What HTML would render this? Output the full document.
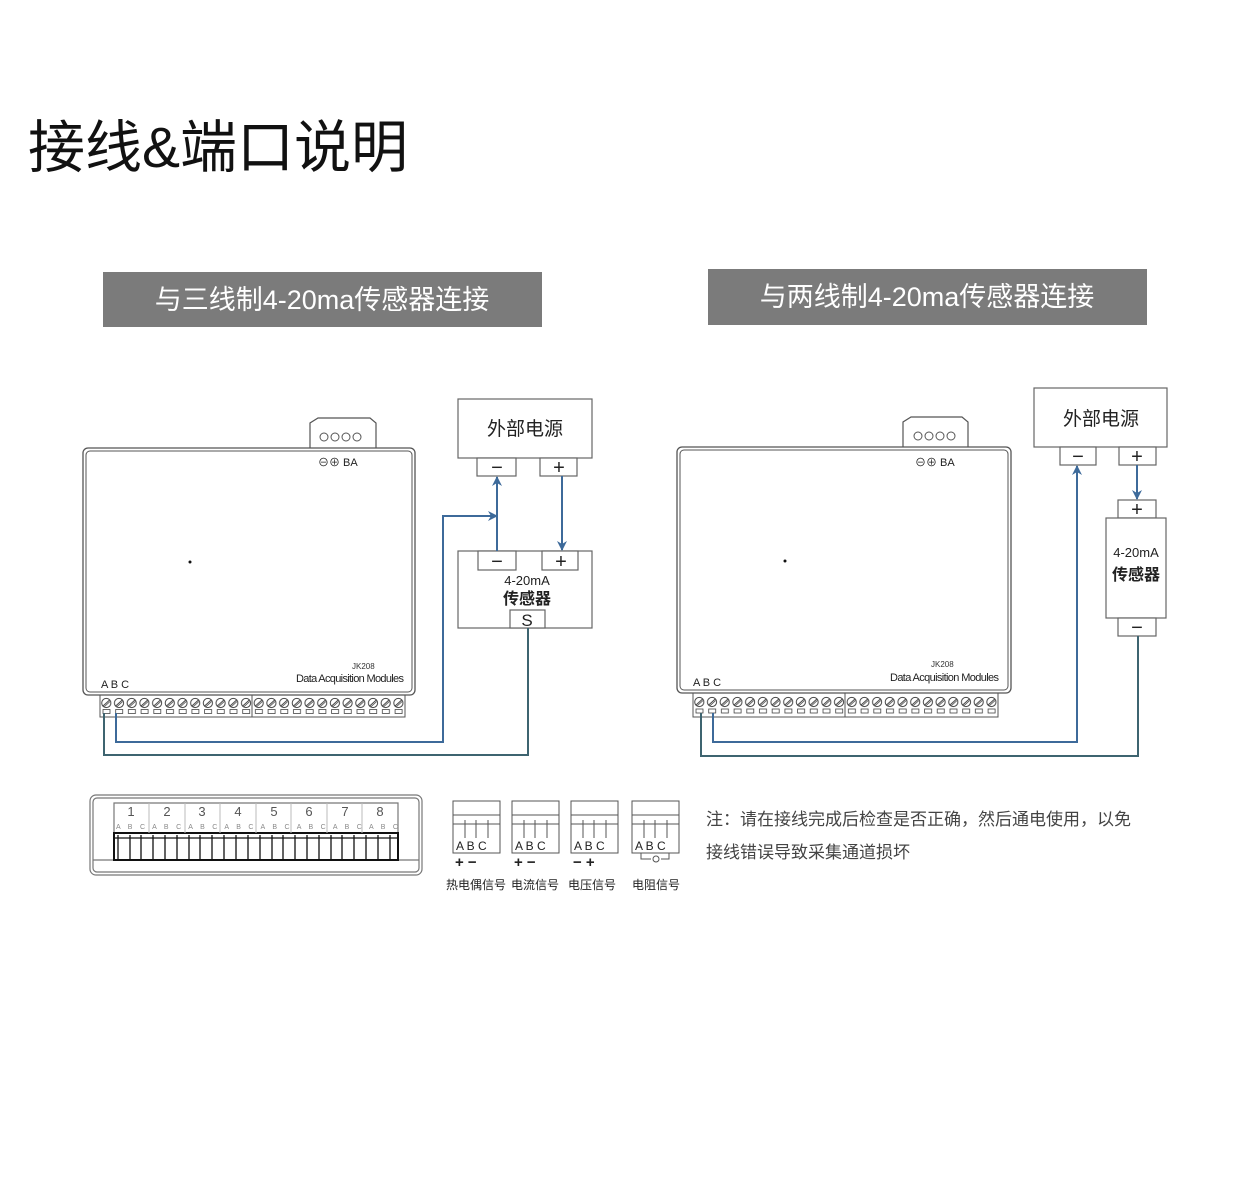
<!DOCTYPE html>
<html><head><meta charset="utf-8"><style>
body{margin:0;background:#fff;}
svg{display:block;}
text{font-family:"Liberation Sans","Noto Sans CJK SC",sans-serif;}
</style></head><body>
<svg width="1256" height="1200" viewBox="0 0 1256 1200" xmlns="http://www.w3.org/2000/svg">
<defs>
<pattern id="scr" x="100" y="695" width="12.7" height="22" patternUnits="userSpaceOnUse">
 <circle cx="6.3" cy="8" r="4.6" fill="#fff" stroke="#444" stroke-width="1"/>
 <line x1="3" y1="11" x2="9.6" y2="5" stroke="#444" stroke-width="1"/>
 <line x1="4" y1="12" x2="10" y2="6.5" stroke="#444" stroke-width="0.8"/>
 <rect x="3" y="14.5" width="7" height="4" fill="#fff" stroke="#444" stroke-width="0.8"/>
</pattern>
<pattern id="scr2" x="693" y="693" width="12.7" height="24" patternUnits="userSpaceOnUse">
 <circle cx="6.3" cy="9" r="4.6" fill="#fff" stroke="#444" stroke-width="1"/>
 <line x1="3" y1="12" x2="9.6" y2="6" stroke="#444" stroke-width="1"/>
 <line x1="4" y1="13" x2="10" y2="7.5" stroke="#444" stroke-width="0.8"/>
 <rect x="3" y="16" width="7" height="4" fill="#fff" stroke="#444" stroke-width="0.8"/>
</pattern>
<marker id="ar" markerWidth="10" markerHeight="10" refX="9" refY="5" orient="auto" markerUnits="userSpaceOnUse">
 <path d="M0,0 L10,5 L0,10 L3,5 Z" fill="#3d6a9a"/>
</marker>
</defs>

<text x="28" y="167" font-size="57" fill="#111">接线&amp;端口说明</text>

<rect x="103" y="272" width="439" height="55" fill="#7b7b7b"/>
<text x="322" y="309" font-size="27" fill="#fff" text-anchor="middle">与三线制4-20ma传感器连接</text>
<rect x="708" y="269" width="439" height="56" fill="#7b7b7b"/>
<text x="927" y="306" font-size="27" fill="#fff" text-anchor="middle">与两线制4-20ma传感器连接</text>

<!-- LEFT DEVICE -->
<g fill="none" stroke="#555">
<path d="M310,448 V423 L318,418 H370 L376,423 V448" fill="#fff" stroke-width="1.2"/>
<rect x="83" y="448" width="332" height="247" rx="5" stroke-width="1.3"/>
<rect x="86" y="451" width="326" height="241" rx="4" stroke-width="1"/>
<rect x="100" y="695" width="305" height="22" fill="url(#scr)" stroke-width="1"/>
<line x1="252" y1="695" x2="252" y2="717"/>
</g>
<g stroke="#555" fill="#fff" stroke-width="1"><circle cx="324" cy="437" r="4"/><circle cx="335" cy="437" r="4"/><circle cx="346" cy="437" r="4"/><circle cx="357" cy="437" r="4"/></g>
<text x="318" y="466" font-size="11" fill="#222">⊖⊕ BA</text>
<circle cx="190" cy="562" r="1.5" fill="#111"/>
<text x="101" y="688" font-size="11" fill="#222">A B C</text>
<text x="352" y="669" font-size="8" fill="#333">JK208</text>
<text x="296" y="682" font-size="11" fill="#222" textLength="108">Data Acquisition Modules</text>

<!-- left power & sensor -->
<g fill="#fff" stroke="#666" stroke-width="1.2">
<rect x="458" y="399" width="134" height="59"/>
<rect x="477" y="458" width="39" height="18"/>
<rect x="540" y="458" width="37" height="18"/>
<rect x="458" y="551" width="134" height="77"/>
<rect x="478" y="551" width="38" height="19"/>
<rect x="542" y="551" width="36" height="19"/>
<rect x="510" y="610" width="35" height="18"/>
</g>
<text x="525" y="435" font-size="19" text-anchor="middle" fill="#222">外部电源</text>
<text x="497" y="474" font-size="20" text-anchor="middle" fill="#222">−</text>
<text x="559" y="474" font-size="20" text-anchor="middle" fill="#222">+</text>
<text x="497" y="568" font-size="20" text-anchor="middle" fill="#222">−</text>
<text x="561" y="568" font-size="20" text-anchor="middle" fill="#222">+</text>
<text x="527" y="585" font-size="13" text-anchor="middle" fill="#222">4-20mA</text>
<text x="527" y="604" font-size="16" text-anchor="middle" fill="#222" font-weight="bold">传感器</text>
<text x="527" y="626" font-size="17" text-anchor="middle" fill="#222">S</text>

<g fill="none" stroke="#3d6a9a" stroke-width="2">
<path d="M116,713 V742 H443 V516 H497" marker-end="url(#ar)"/>
<path d="M497,551 V477" marker-end="url(#ar)"/>
<path d="M562,476 V550" marker-end="url(#ar)"/>
</g>
<path d="M104,713 V755 H528 V628" fill="none" stroke="#3e6470" stroke-width="2"/>

<!-- RIGHT DEVICE -->
<g fill="none" stroke="#555">
<path d="M903,447 V422 L911,417 H962 L968,422 V447" fill="#fff" stroke-width="1.2"/>
<rect x="677" y="447" width="334" height="246" rx="5" stroke-width="1.3"/>
<rect x="680" y="450" width="328" height="240" rx="4" stroke-width="1"/>
<rect x="693" y="693" width="305" height="24" fill="url(#scr2)" stroke-width="1"/>
<line x1="845" y1="693" x2="845" y2="717"/>
</g>
<g stroke="#555" fill="#fff" stroke-width="1"><circle cx="918" cy="436" r="4"/><circle cx="929" cy="436" r="4"/><circle cx="940" cy="436" r="4"/><circle cx="951" cy="436" r="4"/></g>
<text x="915" y="466" font-size="11" fill="#222">⊖⊕ BA</text>
<circle cx="785" cy="561" r="1.5" fill="#111"/>
<text x="693" y="686" font-size="11" fill="#222">A B C</text>
<text x="931" y="667" font-size="8" fill="#333">JK208</text>
<text x="890" y="681" font-size="11" fill="#222" textLength="109">Data Acquisition Modules</text>

<g fill="#fff" stroke="#666" stroke-width="1.2">
<rect x="1034" y="388" width="133" height="59"/>
<rect x="1060" y="447" width="36" height="18"/>
<rect x="1119" y="447" width="37" height="18"/>
<rect x="1118" y="500" width="38" height="18"/>
<rect x="1106" y="518" width="60" height="100"/>
<rect x="1118" y="618" width="38" height="18"/>
</g>
<text x="1101" y="425" font-size="19" text-anchor="middle" fill="#222">外部电源</text>
<text x="1078" y="463" font-size="20" text-anchor="middle" fill="#222">−</text>
<text x="1137" y="463" font-size="20" text-anchor="middle" fill="#222">+</text>
<text x="1137" y="516" font-size="20" text-anchor="middle" fill="#222">+</text>
<text x="1137" y="634" font-size="20" text-anchor="middle" fill="#222">−</text>
<text x="1136" y="557" font-size="13" text-anchor="middle" fill="#222">4-20mA</text>
<text x="1136" y="580" font-size="16" text-anchor="middle" fill="#222" font-weight="bold">传感器</text>

<g fill="none" stroke="#3d6a9a" stroke-width="2">
<path d="M713,713 V742 H1077 V466" marker-end="url(#ar)"/>
<path d="M1137,465 V499" marker-end="url(#ar)"/>
</g>
<path d="M701,713 V756 H1138 V636" fill="none" stroke="#3e6470" stroke-width="2"/>

<!-- bottom terminal panel -->
<g fill="none" stroke="#777" stroke-width="1.2">
<rect x="90" y="795" width="332" height="80" rx="6"/>
<rect x="93" y="798" width="326" height="74" rx="4"/>
<path d="M93,860 H114 V803 H398 V860 H419"/>
</g>
<rect x="114" y="833" width="284" height="27" fill="#fff" stroke="#111" stroke-width="2"/>
<g stroke="#111" stroke-width="1.3">
<path d="M118,835V860M130,835V860M141,835V860M153,835V860M165,835V860M177,835V860M189,835V860M200,835V860M212,835V860M224,835V860M236,835V860M248,835V860M260,835V860M272,835V860M283,835V860M295,835V860M307,835V860M319,835V860M331,835V860M342,835V860M354,835V860M366,835V860M378,835V860M390,835V860"/>
<path d="M114,838H398"/>
</g>
<g stroke="#bbb"><path d="M149,803V833M185,803V833M220,803V833M256,803V833M291,803V833M327,803V833M362,803V833"/></g>
<g font-size="13" fill="#555" text-anchor="middle">
<text x="131" y="816">1</text><text x="167" y="816">2</text><text x="202" y="816">3</text><text x="238" y="816">4</text><text x="274" y="816">5</text><text x="309" y="816">6</text><text x="345" y="816">7</text><text x="380" y="816">8</text>
</g>
<text x="116" y="829" font-size="7" fill="#888" textLength="282">A B C A B C A B C A B C A B C A B C A B C A B C</text>

<!-- signal types -->
<g fill="#fff" stroke="#555" stroke-width="1">
<rect x="453" y="801" width="47" height="52"/><line x1="453" y1="815" x2="500" y2="815"/>
<rect x="512" y="801" width="47" height="52"/><line x1="512" y1="815" x2="559" y2="815"/>
<rect x="571" y="801" width="47" height="52"/><line x1="571" y1="815" x2="618" y2="815"/>
<rect x="632" y="801" width="47" height="52"/><line x1="632" y1="815" x2="679" y2="815"/>
</g>
<g stroke="#555" stroke-width="1" fill="none">
<path d="M453,824H500M465,820V838M476,820V838M488,820V838"/>
<path d="M512,824H559M524,820V838M535,820V838M547,820V838"/>
<path d="M571,824H618M583,820V838M594,820V838M606,820V838"/>
<path d="M632,824H679M644,820V838M655,820V838M667,820V838"/>
<path d="M641,853V859H651M661,859H669V853"/>
</g>
<circle cx="656" cy="859" r="3" fill="none" stroke="#555"/>
<g font-size="12" fill="#222">
<text x="456" y="850">A B C</text><text x="515" y="850">A B C</text><text x="574" y="850">A B C</text><text x="635" y="850">A B C</text>
</g>
<g font-size="15" font-weight="bold" fill="#222">
<text x="455" y="867">+ −</text><text x="514" y="867">+ −</text><text x="573" y="867">− +</text>
</g>
<g font-size="12" fill="#222">
<text x="446" y="889">热电偶信号</text><text x="511" y="889">电流信号</text><text x="568" y="889">电压信号</text><text x="632" y="889">电阻信号</text>
</g>

<text x="706" y="825" font-size="17" fill="#444">注：请在接线完成后检查是否正确，然后通电使用，以免</text>
<text x="706" y="858" font-size="17" fill="#444">接线错误导致采集通道损坏</text>
</svg>
</body></html>
